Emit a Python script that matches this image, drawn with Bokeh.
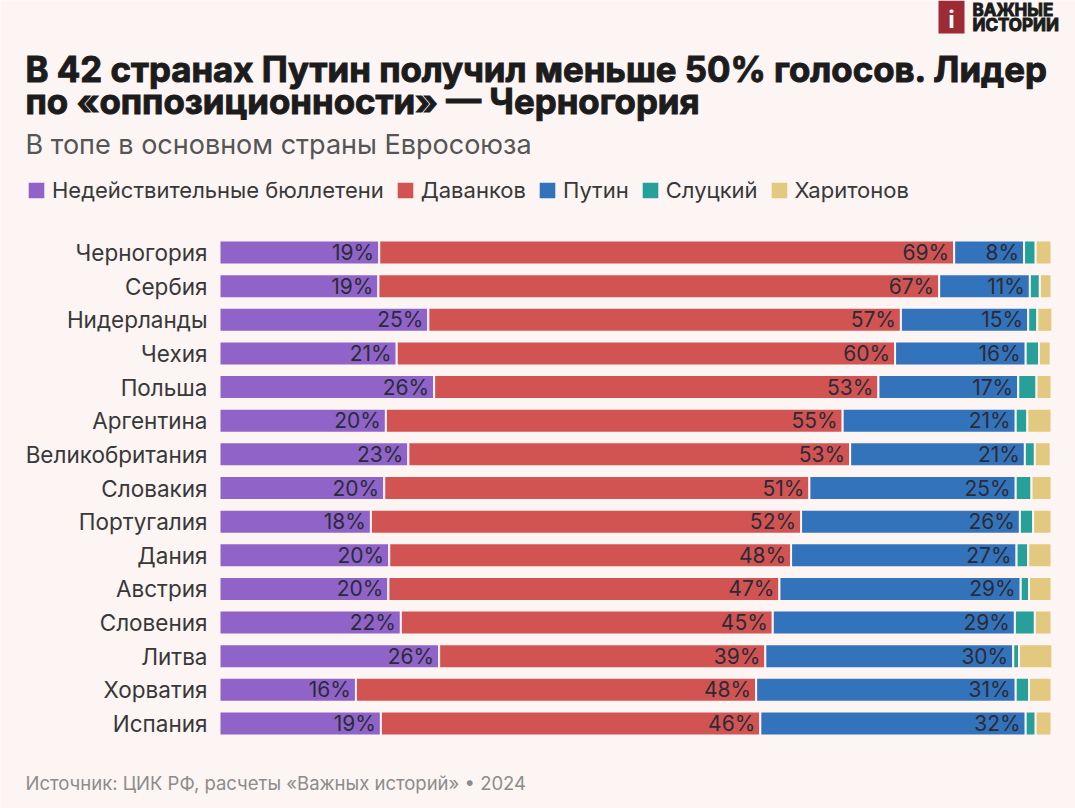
import numpy as np
from bokeh.plotting import figure
from bokeh.models import ColumnDataSource, Range1d
from bokeh.core.properties import value
from bokeh.embed import file_html
from bokeh.resources import INLINE

# ---------------- data ----------------
countries = ["Черногория", "Сербия", "Нидерланды", "Чехия", "Польша", "Аргентина",
             "Великобритания", "Словакия", "Португалия", "Дания", "Австрия",
             "Словения", "Литва", "Хорватия", "Испания"]
invalid = [19.2, 19.1, 25.1, 21.3, 25.8, 20.0, 22.7, 19.8, 18.2, 20.4, 20.3, 21.8, 26.4, 16.4, 19.4]
davankov = [69.1, 67.4, 56.8, 59.9, 53.4, 54.9, 53.1, 51.1, 51.7, 48.3, 47.0, 44.7, 39.2, 48.1, 45.6]
putin = [8.4, 10.9, 15.3, 15.7, 16.8, 20.8, 21.0, 24.8, 26.3, 27.1, 29.0, 29.1, 29.8, 31.2, 31.9]
slutsky = [1.4, 1.2, 1.1, 1.6, 2.2, 1.4, 1.2, 1.9, 1.6, 1.4, 1.0, 2.4, 0.7, 1.6, 1.2]
kharitonov = [1.9, 1.4, 1.8, 1.4, 1.8, 2.9, 1.9, 2.4, 2.2, 2.8, 2.7, 2.0, 4.0, 2.7, 1.9]
series_names = ["Недействительные бюллетени", "Даванков", "Путин", "Слуцкий", "Харитонов"]

title_lines = ["В 42 странах Путин получил меньше 50% голосов. Лидер",
               "по «оппозиционности» — Черногория"]
subtitle = "В топе в основном страны Евросоюза"
source_note = "Источник: ЦИК РФ, расчеты «Важных историй» • 2024"
logo_lines = ["ВАЖНЫЕ", "ИСТОРИИ"]

# ---------------- style ----------------
BG = "#fdf4f4"
COLORS = ["#9063c9", "#d25452", "#3373bb", "#27a09a", "#e2c97f"]
FONT = "Inter"
W, H = 1075, 808        # canvas size

# reference-pixel -> data helpers (layout only)
X0, XS = 219.0, 8.32
Y0, YS = 252.0, 33.643
def px(v):
    return (v - X0) / XS
def py(v):
    return (v - Y0) / YS

p = figure(width=W, height=H, output_backend="svg", toolbar_location=None,
           x_range=Range1d(px(0), px(W)), y_range=Range1d(py(H), py(0)),
           x_axis_location=None, y_axis_location=None, min_border=0,
           background_fill_color=BG, border_fill_color=BG, outline_line_color=None)
p.grid.visible = False

rows = list(range(len(countries)))
keys = ["inv", "dav", "put", "slu", "kha"]
src = ColumnDataSource(dict(row=rows, country=countries, inv=invalid, dav=davankov,
                            put=putin, slu=slutsky, kha=kharitonov))
p.hbar_stack(keys, y="row", height=0.713, color=COLORS, source=src,
             line_color=BG, line_width=2, legend_label=series_names)

# value labels for first three series
vals = np.array([invalid, davankov, putin])
ends = np.cumsum(vals, axis=0)
lx, ly, lt = [], [], []
for s in range(3):
    for i in rows:
        lx.append(ends[s, i])
        ly.append(i)
        lt.append(f"{round(vals[s, i])}%")
p.text(x=lx, y=ly, text=lt, text_align="right", text_baseline="middle", x_offset=-5,
       text_font=value(FONT), text_font_size="21px", text_color="#2b2b38")

# country labels
p.text(x=px(207), y="row", text="country", source=src, text_align="right",
       text_baseline="middle", text_font=value(FONT), text_font_size="22.5px",
       text_color="#383838")

# legend
lg = p.legend[0]
lg.orientation = "horizontal"
lg.location = (25, H - 203)
lg.padding = 0
lg.margin = 0
lg.spacing = 10
lg.glyph_width = 22
lg.glyph_height = 22
lg.label_height = 22
lg.label_standoff = 5
lg.label_text_font = FONT
lg.label_text_font_size = "22px"
lg.label_text_color = "#383838"
lg.border_line_color = None
lg.background_fill_alpha = 0

# titles
p.text(x=[px(25), px(25)], y=[py(68.5), py(100.5)], text=title_lines, text_font=value(FONT),
       text_font_style="bold", text_font_size="34.8px", text_color="#1c1c1c",
       text_baseline="middle", text_outline_color="#1c1c1c")
p.text(x=[px(25)], y=[py(144)], text=[subtitle], text_font=value(FONT),
       text_font_size="27px", text_color="#555555", text_baseline="middle")
p.text(x=[px(25)], y=[py(782)], text=[source_note], text_font=value(FONT),
       text_font_size="18.5px", text_color="#8c8c8c", text_baseline="middle")

# logo
p.quad(left=[px(938)], right=[px(964)], top=[py(0)], bottom=[py(33)],
       color="#9c2b36", line_color=None)
p.text(x=[px(951)], y=[py(19)], text=["i"], text_align="center", text_baseline="middle",
       text_font=value(FONT), text_font_style="bold", text_font_size="24px",
       text_color="white")
p.text(x=[px(972), px(972)], y=[py(9.5), py(24.5)], text=logo_lines,
       text_font=value(FONT), text_font_style="bold", text_font_size="17px",
       text_color="#1c1c1c", text_baseline="middle", text_outline_color="#1c1c1c")

open("out.html", "w").write(file_html(p, INLINE))
